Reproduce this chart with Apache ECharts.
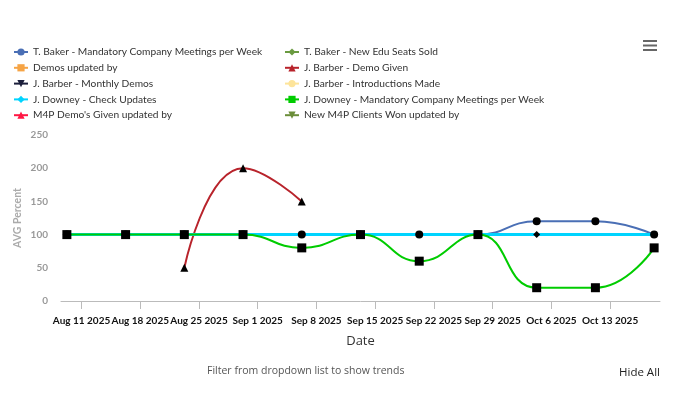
<!DOCTYPE html>
<html>
<head>
<meta charset="utf-8">
<script src="https://cdn.jsdelivr.net/npm/echarts@6/dist/echarts.min.js"></script>
<style>
html,body{margin:0;padding:0;background:#fff;}
#c{width:675px;height:396px;}
</style>
</head>
<body>
<div id="c"></div>
<script>
// ---- data ----
var dates = ['2025-08-09','2025-08-16','2025-08-23','2025-08-30','2025-09-06','2025-09-13','2025-09-20','2025-09-27','2025-10-04','2025-10-11','2025-10-18'];
var tickDates = ['2025-08-11','2025-08-18','2025-08-25','2025-09-01','2025-09-08','2025-09-15','2025-09-22','2025-09-29','2025-10-06','2025-10-13'];
var monthNames = ['Jan','Feb','Mar','Apr','May','Jun','Jul','Aug','Sep','Oct','Nov','Dec'];
var seriesNames = [
  'T. Baker - Mandatory Company Meetings per Week',
  'T. Baker - New Edu Seats Sold',
  'Demos updated by',
  'J. Barber - Demo Given',
  'J. Barber - Monthly Demos',
  'J. Barber - Introductions Made',
  'J. Downey - Check Updates',
  'J. Downey - Mandatory Company Meetings per Week',
  "M4P Demo's Given updated by",
  'New M4P Clients Won updated by'
];
var seriesColors = ['#4a6fb5','#6a9a40','#f6a445','#b8232b','#1b1f3b','#fde49a','#00d4ff','#00cc00','#ff1744','#6b8e3a'];
var seriesSymbols = ['circle','diamond','rect','triangle','triangle','circle','diamond','rect','triangle','triangle'];
var seriesRotate = [0,0,0,0,180,0,0,0,0,180];
// values: [dateIndex, value]
var tBakerMeetings = [[0,100],[1,100],[2,100],[3,100],[4,100],[5,100],[6,100],[7,100],[8,120],[9,120],[10,100]];
var tBakerEduSeats = [];
var demosUpdated = [];
var jBarberDemoGiven = [[2,50],[3,200],[4,150]];
var jBarberMonthlyDemos = [];
var jBarberIntroductions = [];
var jDowneyCheckUpdates = [[0,100],[2,100],[4,100],[6,100],[8,100],[10,100]];
var jDowneyMeetings = [[0,100],[1,100],[2,100],[3,100],[4,80],[5,100],[6,60],[7,100],[8,20],[9,20],[10,80]];
var m4pDemos = [];
var m4pClients = [];
var seriesValues = [tBakerMeetings,tBakerEduSeats,demosUpdated,jBarberDemoGiven,jBarberMonthlyDemos,jBarberIntroductions,jDowneyCheckUpdates,jDowneyMeetings,m4pDemos,m4pClients];
var yTicks = [0,50,100,150,200,250];

// ---- build ----
var DAY = 86400000;
function pointTime(d){ return Date.parse(d + 'T06:00:00Z'); }
function tickTime(d){ return Date.parse(d + 'T00:00:00Z'); }
var xMin = pointTime(dates[0]) - 0.7*DAY;
var xMax = pointTime(dates[dates.length-1]) + 0.7*DAY;
var tickVals = tickDates.map(tickTime);

var series = seriesNames.map(function(n,i){
  return {
    name: n,
    type: 'line',
    smooth: true,
    data: seriesValues[i].map(function(p){ return [pointTime(dates[p[0]]), p[1]]; }),
    symbol: seriesSymbols[i],
    symbolRotate: seriesRotate[i],
    symbolSize: seriesSymbols[i]==='diamond' ? 7 : (seriesSymbols[i]==='rect' ? 9 : 8),
    color: seriesColors[i],
    lineStyle: {color: seriesColors[i], width: i===6 ? 3 : 2},
    itemStyle: {color: '#000'},
    emphasis: {disabled: true}
  };
});

function legendItem(i){
  return {name: seriesNames[i], itemStyle: {color: seriesColors[i]}, lineStyle: {color: seriesColors[i], width: 2}};
}
var legendCommon = {
  orient: 'vertical', top: 47, padding: 0, itemWidth: 14, itemHeight: 9, itemGap: 5.8,
  selectedMode: false,
  textStyle: {fontFamily: 'Lato', fontSize: 10.2, color: '#333'}
};
var leg1 = Object.assign({}, legendCommon, {left: 13, data: [0,2,4,6,8].map(legendItem)});
var leg2 = Object.assign({}, legendCommon, {left: 284, data: [1,3,5,7,9].map(legendItem)});

var chart = echarts.init(document.getElementById('c'));
chart.setOption({
  animation: false,
  legend: [leg1, leg2],
  grid: {left: 61, right: 15, top: 135, bottom: 95, containLabel: false},
  xAxis: {
    type: 'value', min: xMin, max: xMax,
    name: 'Date', nameLocation: 'middle', nameGap: 34,
    nameTextStyle: {fontFamily: 'Open Sans', fontSize: 13, color: '#333'},
    axisLine: {show: true, lineStyle: {color: '#bbb', width: 1}},
    axisTick: {show: true, customValues: tickVals, length: 8, lineStyle: {color: '#bbb'}},
    axisLabel: {
      customValues: tickVals, margin: 15, hideOverlap: false, interval: 0,
      showMinLabel: true, showMaxLabel: true,
      fontFamily: 'Lato', fontWeight: 'bold', fontSize: 10, color: '#111',
      formatter: function(v){ var d = new Date(v); return monthNames[d.getUTCMonth()] + ' ' + d.getUTCDate() + ' ' + d.getUTCFullYear(); }
    },
    splitLine: {show: false}
  },
  yAxis: {
    type: 'value', min: 0, max: 250, interval: 50,
    name: 'AVG Percent', nameLocation: 'middle', nameGap: 38, nameMoveOverlap: false,
    nameTextStyle: {fontFamily: 'Lato', fontSize: 10.5, fontWeight: 'bold', color: '#aaa'},
    axisLine: {show: false}, axisTick: {show: false},
    axisLabel: {margin: 13, fontFamily: 'Lato', fontWeight: 'bold', fontSize: 10, color: '#999',
      customValues: yTicks},
    splitLine: {show: false}
  },
  graphic: [
    {type: 'rect', shape: {x: 643, y: 40, width: 14, height: 2}, style: {fill: '#666'}},
    {type: 'rect', shape: {x: 643, y: 44.5, width: 14, height: 2}, style: {fill: '#666'}},
    {type: 'rect', shape: {x: 643, y: 49, width: 14, height: 2}, style: {fill: '#666'}},
    {type: 'text', left: 207, top: 366, style: {text: 'Filter from dropdown list to show trends', font: '10.5px "Open Sans"', fill: '#555'}},
    {type: 'text', left: 619, top: 367, style: {text: 'Hide All', font: '11.5px "Open Sans"', fill: '#222'}}
  ],
  series: series
});
</script>
</body>
</html>
